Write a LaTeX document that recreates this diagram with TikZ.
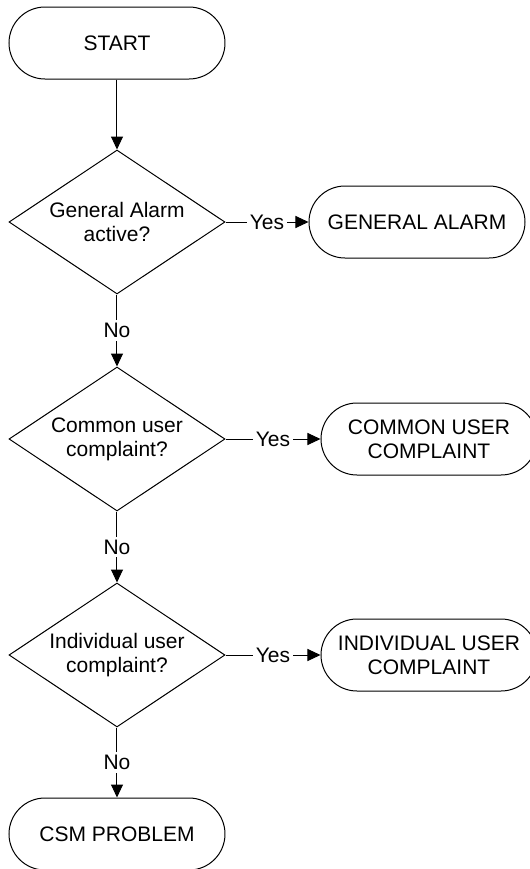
\documentclass[tikz,border=0pt]{standalone}
\usepackage{fontspec}
\setmainfont{Liberation Sans}
\usepackage{tikz}
\usetikzlibrary{shapes.geometric, arrows.meta, positioning}
\newcommand{\chartfont}{\fontsize{10.5}{12}\selectfont}

\begin{document}
\begin{tikzpicture}[node distance=108pt, line width=0.5pt]
    \tikzstyle{terminal} = [rectangle, rounded corners=18pt, minimum width=108pt, minimum height=36pt, text centered, align=center, draw=black, font=\chartfont]
    \tikzstyle{decision} = [diamond, aspect=1.5, inner sep=0pt, minimum width=108pt, minimum height=72pt, text centered, align=center, draw=black, font=\chartfont]
    \tikzstyle{answer} = [fill=white, inner sep=1.5pt, font=\chartfont]
    \tikzstyle{arrow} = [->, >={Triangle[length=6.5pt, width=6pt]}]

    % page frame, cut on the right and at the bottom like the original
    \useasboundingbox (-58.5pt,21.5pt) rectangle (206.5pt,-413pt);
    \clip (-58.5pt,21.5pt) rectangle (206.5pt,-413pt);

    \node (start) [terminal] {START};
    \node (dec1) [decision, below of=start, yshift=18.5pt] {General Alarm\\active?};
    \node (dec2) [decision, below of=dec1, yshift=-0.5pt] {Common user\\complaint?};
    \node (dec3) [decision, below of=dec2] {Individual user\\complaint?};
    \node (csm) [terminal, below of=dec3, yshift=18.5pt] {CSM PROBLEM};

    \node (alarm) [terminal, right of=dec1, xshift=42pt] {GENERAL ALARM};
    \node (common) [terminal, right of=dec2, xshift=48pt] {COMMON USER\\COMPLAINT};
    \node (indiv) [terminal, right of=dec3, xshift=48pt] {INDIVIDUAL USER\\COMPLAINT};

    \draw [arrow] (start) -- (dec1);
    \draw [arrow] (dec1) -- node[answer] {No} (dec2);
    \draw [arrow] (dec2) -- node[answer] {No} (dec3);
    \draw [arrow] (dec3) -- node[answer] {No} (csm);

    \draw [arrow] (dec1) -- node[answer] {Yes} (alarm);
    \draw [arrow] (dec2) -- node[answer] {Yes} (common);
    \draw [arrow] (dec3) -- node[answer] {Yes} (indiv);
\end{tikzpicture}
\end{document}
